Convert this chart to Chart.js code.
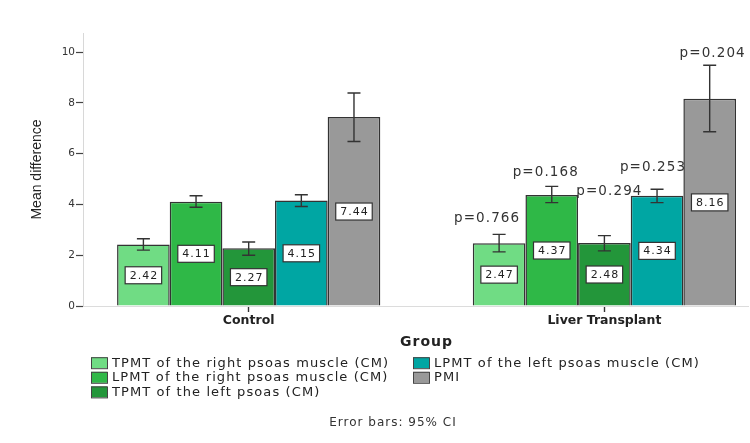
<!DOCTYPE html>
<html>
<head>
<meta charset="utf-8">
<script src="https://cdn.jsdelivr.net/npm/chart.js@4/dist/chart.umd.min.js"></script>
<style>
  html, body { margin: 0; padding: 0; background: #fff; }
  #wrap { width: 750px; height: 443px; position: relative; }
</style>
</head>
<body>
<div id="wrap"><canvas id="c" width="750" height="443"></canvas></div>
<script>
// ---------- data ----------
const categories = ['Control', 'Liver Transplant'];
const seriesNames = [
  'TPMT of the right psoas muscle (CM)',
  'LPMT of the right psoas muscle (CM)',
  'TPMT of the left psoas (CM)',
  'LPMT of the left psoas muscle (CM)',
  'PMI'
];
const tpmtRight = [2.42, 2.47];
const lpmtRight = [4.11, 4.37];
const tpmtLeft  = [2.27, 2.48];
const lpmtLeft  = [4.15, 4.34];
const pmi       = [7.44, 8.16];
// 95% CI [low, high] per category
const tpmtRightCI = [[2.20, 2.65], [2.13, 2.82]];
const lpmtRightCI = [[3.89, 4.34], [4.07, 4.71]];
const tpmtLeftCI  = [[2.00, 2.52], [2.17, 2.77]];
const lpmtLeftCI  = [[3.92, 4.38], [4.07, 4.60]];
const pmiCI       = [[6.48, 8.39], [6.86, 9.48]];
// p-values shown over the Liver Transplant group
const pValues = ['p=0.766', 'p=0.168', 'p=0.294', 'p=0.253', 'p=0.204'];
const yTicks = [0, 2, 4, 6, 8, 10];
const footnote = 'Error bars: 95% CI';
const xTitle = 'Group';
const yTitle = 'Mean difference';

// ---------- styles ----------
const colors = ['#70DC84', '#2FB847', '#23963A', '#00A6A3', '#999999'];
const valueSets = [tpmtRight, lpmtRight, tpmtLeft, lpmtLeft, pmi];
const ciSets = [tpmtRightCI, lpmtRightCI, tpmtLeftCI, lpmtLeftCI, pmiCI];
const pLabelOffsets = [{dx: -12, dy: 16}, {dx: -6, dy: 14}, {dx: 5, dy: 44}, {dx: -4, dy: 22}, {dx: 3, dy: 12}];
const FONT = "'DejaVu Sans', Verdana, sans-serif";

const datasets = seriesNames.map((name, k) => ({
  label: name,
  data: categories.map((c, i) => ({x: i, y: valueSets[k][i]})),
  backgroundColor: colors[k],
  borderColor: '#333333',
  borderWidth: 1.5,
  categoryPercentage: 0.74,
  barPercentage: 1.0,
  ci: ciSets[k]
}));

function txt(ctx, s, x, y, font, color, align, spacing) {
  ctx.save();
  ctx.font = font;
  ctx.fillStyle = color;
  ctx.textBaseline = 'middle';
  ctx.letterSpacing = (spacing || 0) + 'px';
  const w = ctx.measureText(s).width;
  let sx = x;
  if (align === 'center') sx = x - w / 2;
  else if (align === 'right') sx = x - w;
  ctx.textAlign = 'left';
  ctx.fillText(s, sx, y);
  ctx.restore();
  return w;
}

const decorPlugin = {
  id: 'decor',
  afterDatasetsDraw(chart) {
    const ctx = chart.ctx;
    const ys = chart.scales.y;
    // value labels in bar middles
    chart.data.datasets.forEach((ds, k) => {
      const meta = chart.getDatasetMeta(k);
      meta.data.forEach((bar, i) => {
        const v = ds.data[i].y;
        const yMid = ys.getPixelForValue(v / 2);
        const s = v.toFixed(2);
        ctx.save();
        ctx.font = '11px ' + FONT;
        ctx.letterSpacing = '1px';
        const w = ctx.measureText(s).width;
        ctx.restore();
        const bw = w + 8, bh = 17;
        ctx.save();
        ctx.fillStyle = '#ffffff';
        ctx.strokeStyle = '#333333';
        ctx.lineWidth = 1.2;
        ctx.fillRect(bar.x - bw / 2, yMid - bh / 2, bw, bh);
        ctx.strokeRect(bar.x - bw / 2, yMid - bh / 2, bw, bh);
        ctx.restore();
        txt(ctx, s, bar.x + 0.5, yMid + 0.5, '11px ' + FONT, '#222', 'center', 1);
      });
    });
    // error bars
    chart.data.datasets.forEach((ds, k) => {
      const meta = chart.getDatasetMeta(k);
      meta.data.forEach((bar, i) => {
        const lo = ys.getPixelForValue(ds.ci[i][0]);
        const hi = ys.getPixelForValue(ds.ci[i][1]);
        ctx.save();
        ctx.strokeStyle = '#333333';
        ctx.lineWidth = 1.4;
        ctx.beginPath();
        ctx.moveTo(bar.x, lo); ctx.lineTo(bar.x, hi);
        ctx.moveTo(bar.x - 6.5, lo); ctx.lineTo(bar.x + 6.5, lo);
        ctx.moveTo(bar.x - 6.5, hi); ctx.lineTo(bar.x + 6.5, hi);
        ctx.stroke();
        ctx.restore();
      });
    });
    // p-values over the second group
    chart.data.datasets.forEach((ds, k) => {
      const bar = chart.getDatasetMeta(k).data[1];
      const hi = ys.getPixelForValue(ds.ci[1][1]);
      const o = pLabelOffsets[k];
      txt(ctx, pValues[k], bar.x + o.dx, hi - o.dy, '13.5px ' + FONT, '#333', 'center', 1.1);
    });
  },
  afterDraw(chart) {
    const ctx = chart.ctx;
    const xs = chart.scales.x;
    // axis title "Group", centred between the category ticks
    const gx = (xs.getPixelForValue(0) + xs.getPixelForValue(categories.length - 1)) / 2;
    txt(ctx, xTitle, gx, 342, 'bold 14px ' + FONT, '#222', 'center', 1);
    // legend, column-major, 3 rows
    chart.data.datasets.forEach((ds, k) => {
      const col = Math.floor(k / 3), row = k % 3;
      const sx = col === 0 ? 91 : 413;
      const sy = 362.7 + row * 14.6;
      ctx.save();
      ctx.fillStyle = ds.backgroundColor;
      ctx.strokeStyle = '#444';
      ctx.lineWidth = 1;
      ctx.fillRect(sx, sy - 5.5, 16, 11);
      ctx.strokeRect(sx + 0.5, sy - 5, 16, 11);
      ctx.restore();
      txt(ctx, ds.label, sx + 21, sy + 0.5, '13px ' + FONT, '#222', 'left', 1.1);
    });
    txt(ctx, footnote, 393, 423, '12px ' + FONT, '#333', 'center', 1);
  }
};

new Chart(document.getElementById('c'), {
  type: 'bar',
  data: { datasets },
  options: {
    responsive: false,
    animation: false,
    devicePixelRatio: 1,
    layout: { padding: { top: 33, right: 2, bottom: 107, left: 0 } },
    plugins: { legend: { display: false }, tooltip: { enabled: false } },
    scales: {
      x: {
        type: 'linear',
        min: -0.4658,
        max: 1.4037,
        offset: false,
        afterBuildTicks: (s) => { s.ticks = categories.map((c, i) => ({value: i})); },
        afterFit: (s) => { s.height = 30; },
        grid: { display: true, drawOnChartArea: false, offset: false, tickLength: 6, tickColor: '#333', tickWidth: 1.4 },
        border: { display: true, color: '#dcdcdc', width: 1 },
        ticks: {
          autoSkip: false,
          maxRotation: 0,
          padding: 1,
          color: '#222',
          font: { family: FONT, size: 12.5, weight: 'bold' },
          callback: (v) => categories[v] !== undefined ? categories[v] : ''
        }
      },
      y: {
        min: 0,
        max: 10.75,
        afterBuildTicks: (s) => { s.ticks = yTicks.map(v => ({value: v})); },
        afterFit: (s) => { s.width = 83; },
        grid: { display: true, drawOnChartArea: false, tickLength: 7, tickColor: '#444', tickWidth: 1.2 },
        border: { display: true, color: '#d8d8d8', width: 1 },
        ticks: { padding: 1, color: '#333', font: { family: FONT, size: 10.5 } },
        title: {
          display: true,
          text: yTitle,
          color: '#222',
          padding: { top: 29, bottom: 0 },
          font: { family: "'Liberation Sans Narrow', 'Arial Narrow', 'Liberation Sans', sans-serif", size: 14 }
        }
      }
    }
  },
  plugins: [decorPlugin]
});
</script>
</body>
</html>
